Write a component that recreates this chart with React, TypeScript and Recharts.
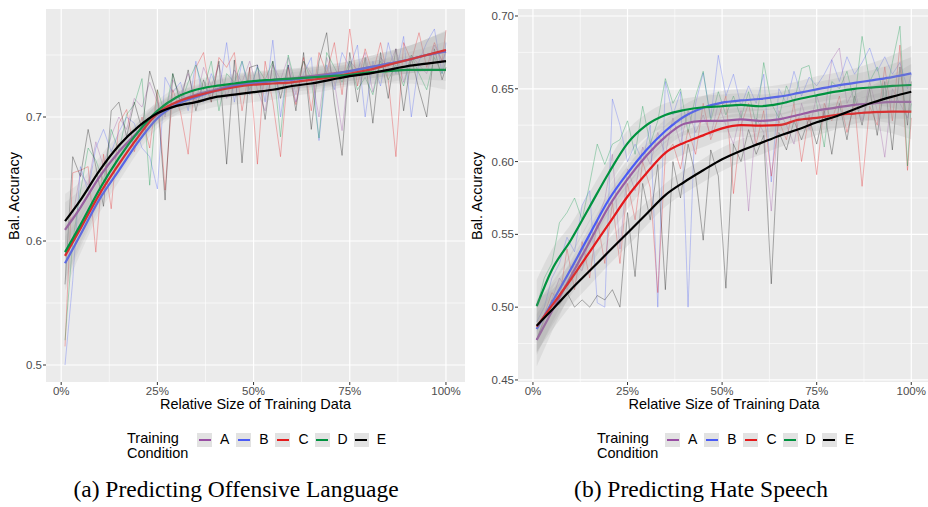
import React from 'react';
import { ComposedChart, Line, Area, XAxis, YAxis, CartesianGrid } from 'recharts';

// x positions (percent of training data)
const rawSizes = [
  1, 3, 5, 7, 9, 11, 13, 15, 17, 19, 21, 23, 25, 27, 29, 31, 33, 35, 37, 39, 41, 43, 45, 47, 49,
  51, 53, 55, 57, 59, 61, 63, 65, 67, 69, 71, 73, 75, 77, 79, 81, 83, 85, 87, 89, 91, 93, 95, 97, 99, 100,
];
const smoothSizes = [1, 5, 10, 15, 20, 25, 30, 35, 40, 45, 50, 55, 60, 65, 70, 75, 80, 85, 90, 95, 100];

const conditions = ['A', 'B', 'C', 'D', 'E'];
const colors = ['#984EA3', '#4A5BF5', '#E41A1C', '#00923F', '#000000'];

// (a) offensive language - raw runs
const offA = [
  0.610, 0.620, 0.655, 0.645, 0.680, 0.660, 0.685, 0.700, 0.690, 0.715,
  0.708, 0.728, 0.712, 0.700, 0.730, 0.718, 0.735, 0.712, 0.740, 0.725,
  0.742, 0.715, 0.738, 0.728, 0.745, 0.722, 0.705, 0.742, 0.730, 0.748,
  0.718, 0.745, 0.735, 0.700, 0.748, 0.728, 0.689, 0.745, 0.738, 0.752,
  0.720, 0.748, 0.740, 0.755, 0.728, 0.750, 0.742, 0.735, 0.758, 0.745, 0.752,
];
const offB = [
  0.500, 0.568, 0.660, 0.640, 0.675, 0.690, 0.672, 0.688, 0.700, 0.695,
  0.675, 0.668, 0.642, 0.732, 0.720, 0.728, 0.705, 0.745, 0.712, 0.735,
  0.720, 0.760, 0.712, 0.745, 0.718, 0.742, 0.712, 0.762, 0.700, 0.742,
  0.712, 0.735, 0.748, 0.681, 0.742, 0.722, 0.752, 0.740, 0.758, 0.700,
  0.745, 0.725, 0.760, 0.735, 0.765, 0.700, 0.745, 0.760, 0.771, 0.735, 0.760,
];
const offC = [
  0.515, 0.655, 0.657, 0.660, 0.591, 0.670, 0.626, 0.695, 0.706, 0.672,
  0.700, 0.675, 0.722, 0.641, 0.722, 0.704, 0.670, 0.740, 0.752, 0.712,
  0.748, 0.740, 0.752, 0.705, 0.740, 0.662, 0.745, 0.712, 0.668, 0.740,
  0.710, 0.748, 0.705, 0.752, 0.735, 0.760, 0.718, 0.771, 0.725, 0.755,
  0.735, 0.760, 0.730, 0.668, 0.760, 0.745, 0.768, 0.740, 0.760, 0.745, 0.770,
];
const offD = [
  0.520, 0.600, 0.640, 0.675, 0.665, 0.648, 0.690, 0.672, 0.702, 0.710,
  0.731, 0.645, 0.722, 0.702, 0.735, 0.710, 0.728, 0.742, 0.722, 0.745,
  0.705, 0.735, 0.728, 0.745, 0.722, 0.740, 0.730, 0.745, 0.684, 0.750,
  0.725, 0.745, 0.730, 0.683, 0.752, 0.740, 0.728, 0.745, 0.722, 0.732,
  0.718, 0.745, 0.730, 0.742, 0.725, 0.750, 0.735, 0.722, 0.748, 0.735, 0.745,
];
const offE = [
  0.565, 0.668, 0.652, 0.690, 0.660, 0.628, 0.705, 0.712, 0.684, 0.712,
  0.690, 0.737, 0.716, 0.633, 0.735, 0.712, 0.738, 0.705, 0.730, 0.712,
  0.745, 0.662, 0.746, 0.663, 0.740, 0.742, 0.698, 0.745, 0.715, 0.742,
  0.705, 0.752, 0.690, 0.745, 0.768, 0.712, 0.669, 0.752, 0.712, 0.748,
  0.695, 0.752, 0.715, 0.755, 0.705, 0.748, 0.722, 0.700, 0.755, 0.730, 0.740,
];

// (a) smoothed fits
const offSmoothA = [0.609, 0.627, 0.652, 0.672, 0.688, 0.702, 0.712, 0.718, 0.722, 0.726, 0.728, 0.730, 0.731, 0.733, 0.735, 0.737, 0.740, 0.743, 0.746, 0.750, 0.753];
const offSmoothB = [0.582, 0.605, 0.634, 0.657, 0.680, 0.699, 0.710, 0.716, 0.721, 0.725, 0.727, 0.729, 0.730, 0.732, 0.734, 0.737, 0.740, 0.743, 0.746, 0.750, 0.753];
const offSmoothC = [0.588, 0.610, 0.638, 0.662, 0.684, 0.703, 0.712, 0.717, 0.721, 0.724, 0.726, 0.727, 0.728, 0.730, 0.732, 0.735, 0.738, 0.742, 0.746, 0.750, 0.754];
const offSmoothD = [0.591, 0.613, 0.642, 0.667, 0.688, 0.705, 0.716, 0.722, 0.725, 0.727, 0.729, 0.730, 0.731, 0.732, 0.733, 0.734, 0.736, 0.737, 0.738, 0.738, 0.738];
const offSmoothE = [0.616, 0.633, 0.657, 0.677, 0.692, 0.703, 0.709, 0.712, 0.716, 0.718, 0.720, 0.722, 0.725, 0.727, 0.730, 0.733, 0.735, 0.738, 0.741, 0.743, 0.745];
const offBand = [0.022, 0.015, 0.011, 0.009, 0.008, 0.008, 0.008, 0.008, 0.008, 0.008, 0.008, 0.008, 0.008, 0.008, 0.008, 0.008, 0.009, 0.010, 0.011, 0.013, 0.016];

// (b) hate speech - raw runs
const hateA = [
  0.478, 0.490, 0.505, 0.520, 0.512, 0.530, 0.525, 0.550, 0.560, 0.574,
  0.605, 0.540, 0.595, 0.580, 0.610, 0.598, 0.620, 0.605, 0.630, 0.612,
  0.635, 0.620, 0.632, 0.618, 0.640, 0.625, 0.612, 0.635, 0.566, 0.630,
  0.620, 0.566, 0.635, 0.625, 0.612, 0.640, 0.622, 0.645, 0.630, 0.670,
  0.678, 0.640, 0.650, 0.628, 0.655, 0.635, 0.603, 0.650, 0.640, 0.630, 0.640,
];
const hateB = [
  0.490, 0.500, 0.520, 0.530, 0.548, 0.538, 0.570, 0.580, 0.503, 0.500,
  0.643, 0.625, 0.600, 0.612, 0.600, 0.625, 0.500, 0.655, 0.632, 0.648,
  0.500, 0.640, 0.661, 0.630, 0.673, 0.645, 0.660, 0.638, 0.652, 0.640,
  0.660, 0.586, 0.650, 0.640, 0.662, 0.645, 0.658, 0.652, 0.660, 0.670,
  0.655, 0.672, 0.660, 0.668, 0.678, 0.662, 0.672, 0.660, 0.668, 0.650, 0.660,
];
const hateC = [
  0.487, 0.495, 0.510, 0.505, 0.540, 0.512, 0.545, 0.520, 0.560, 0.530,
  0.572, 0.530, 0.585, 0.560, 0.600, 0.582, 0.510, 0.605, 0.612, 0.595,
  0.622, 0.605, 0.640, 0.615, 0.630, 0.645, 0.578, 0.625, 0.640, 0.612,
  0.635, 0.590, 0.628, 0.615, 0.640, 0.600, 0.632, 0.591, 0.640, 0.628,
  0.645, 0.620, 0.640, 0.583, 0.638, 0.625, 0.665, 0.628, 0.680, 0.594, 0.630,
];
const hateD = [
  0.500, 0.520, 0.530, 0.558, 0.565, 0.575, 0.560, 0.585, 0.612, 0.598,
  0.612, 0.615, 0.628, 0.605, 0.638, 0.612, 0.628, 0.657, 0.640, 0.650,
  0.620, 0.645, 0.662, 0.628, 0.648, 0.632, 0.645, 0.630, 0.648, 0.625,
  0.668, 0.640, 0.630, 0.652, 0.640, 0.664, 0.666, 0.640, 0.610, 0.655,
  0.650, 0.662, 0.640, 0.686, 0.655, 0.665, 0.642, 0.668, 0.693, 0.597, 0.640,
];
const hateE = [
  0.478, 0.492, 0.505, 0.502, 0.510, 0.500, 0.505, 0.500, 0.508, 0.505,
  0.512, 0.500, 0.565, 0.521, 0.585, 0.560, 0.598, 0.512, 0.600, 0.575,
  0.612, 0.590, 0.546, 0.608, 0.590, 0.513, 0.612, 0.600, 0.622, 0.605,
  0.618, 0.516, 0.620, 0.608, 0.628, 0.615, 0.630, 0.612, 0.635, 0.605,
  0.640, 0.615, 0.645, 0.625, 0.650, 0.618, 0.655, 0.608, 0.665, 0.625, 0.655,
];

// (b) smoothed fits
const hateSmoothA = [0.4775, 0.497, 0.521, 0.545, 0.569, 0.588, 0.604, 0.617, 0.626, 0.628, 0.628, 0.629, 0.628, 0.629, 0.632, 0.635, 0.637, 0.639, 0.640, 0.641, 0.641];
const hateSmoothB = [0.485, 0.503, 0.526, 0.550, 0.5736, 0.592, 0.608, 0.621, 0.631, 0.637, 0.6405, 0.642, 0.643, 0.6446, 0.647, 0.6496, 0.652, 0.654, 0.656, 0.658, 0.6606];
const hateSmoothC = [0.4866, 0.501, 0.519, 0.538, 0.557, 0.576, 0.592, 0.606, 0.613, 0.618, 0.6228, 0.625, 0.6247, 0.625, 0.6286, 0.630, 0.632, 0.633, 0.634, 0.6343, 0.6343];
const hateSmoothD = [0.5008, 0.5256, 0.546, 0.569, 0.592, 0.6125, 0.625, 0.632, 0.6354, 0.6373, 0.638, 0.6389, 0.638, 0.6396, 0.6428, 0.6455, 0.648, 0.650, 0.651, 0.652, 0.6526];
const hateSmoothE = [0.4873, 0.498, 0.512, 0.525, 0.538, 0.551, 0.564, 0.577, 0.586, 0.594, 0.6016, 0.6075, 0.6125, 0.6176, 0.622, 0.627, 0.631, 0.636, 0.6407, 0.6446, 0.648];
const hateBand = [0.018, 0.014, 0.011, 0.010, 0.009, 0.009, 0.008, 0.008, 0.008, 0.008, 0.008, 0.008, 0.008, 0.008, 0.008, 0.009, 0.009, 0.010, 0.012, 0.015, 0.019];

const xTicks = [0, 0.25, 0.5, 0.75, 1];
const xMinor = [0.125, 0.375, 0.625, 0.875];
const offTicks = [0.5, 0.6, 0.7];
const offMinor = [0.55, 0.65, 0.75];
const hateTicks = [0.45, 0.5, 0.55, 0.6, 0.65, 0.7];
const hateMinor = [0.475, 0.525, 0.575, 0.625, 0.675];

const FONT = '"Liberation Sans", Arial, Helvetica, sans-serif';
const X_DOMAIN = [-0.0395, 1.0495];
const CHART_H = 405;

function buildRows(raw: number[][], smooth: number[][], band: number[]) {
  const xs = Array.from(new Set([...rawSizes, ...smoothSizes])).sort((a, b) => a - b);
  return xs.map((x) => {
    const row: any = { x: x / 100 };
    const ri = rawSizes.indexOf(x);
    const si = smoothSizes.indexOf(x);
    conditions.forEach((c, k) => {
      if (ri >= 0) row['r' + c] = raw[k][ri];
      if (si >= 0) {
        row['s' + c] = smooth[k][si];
        row['b' + c] = [smooth[k][si] - band[si], smooth[k][si] + band[si]];
      }
    });
    return row;
  });
}

const offRows = buildRows(
  [offA, offB, offC, offD, offE],
  [offSmoothA, offSmoothB, offSmoothC, offSmoothD, offSmoothE],
  offBand
);
const hateRows = buildRows(
  [hateA, hateB, hateC, hateD, hateE],
  [hateSmoothA, hateSmoothB, hateSmoothC, hateSmoothD, hateSmoothE],
  hateBand
);

const layer: React.CSSProperties = { position: 'absolute', left: 0, top: 0 };

function Panel({ rows, yDomain, yTicks, yMinor, digits, width, ribbon }: any) {
  const tick = { fill: '#4D4D4D', fontSize: 11.5, fontFamily: FONT };
  return (
    <div style={{ position: 'relative', width, height: CHART_H }}>
      {/* panel, axes and the raw runs */}
      <div style={layer}>
        <ComposedChart width={width} height={CHART_H} data={rows} margin={{ top: 9, right: 1, left: 0, bottom: 0 }}>
          <CartesianGrid
            fill="#EBEBEB"
            stroke="#FFFFFF"
            strokeWidth={0.6}
            horizontalValues={yMinor}
            verticalValues={xMinor}
          />
          <CartesianGrid stroke="#FFFFFF" strokeWidth={1.2} horizontalValues={yTicks} verticalValues={xTicks} />
          <XAxis
            type="number"
            dataKey="x"
            domain={X_DOMAIN}
            ticks={xTicks}
            allowDataOverflow
            tickFormatter={(v: number) => `${Math.round(v * 100)}%`}
            axisLine={false}
            tickLine={{ stroke: '#333333' }}
            tickSize={3}
            tickMargin={2}
            height={23}
            tick={tick}
          />
          <YAxis
            type="number"
            domain={yDomain}
            ticks={yTicks}
            allowDataOverflow
            tickFormatter={(v: number) => v.toFixed(digits)}
            axisLine={false}
            tickLine={{ stroke: '#333333' }}
            tickSize={3}
            tickMargin={1}
            width={46}
            tick={tick}
          />
          {conditions.map((c, k) => (
            <Line
              key={'r' + c}
              dataKey={'r' + c}
              type="linear"
              stroke={colors[k]}
              strokeOpacity={0.45}
              strokeWidth={0.7}
              dot={false}
              activeDot={false}
              connectNulls
              isAnimationActive={false}
            />
          ))}
        </ComposedChart>
      </div>
      {/* one layer per condition: ribbon, then fitted line, stacked A..E */}
      {conditions.map((c, k) => (
        <div key={c} style={layer}>
          <ComposedChart width={width} height={CHART_H} data={rows} margin={{ top: 9, right: 1, left: 46, bottom: 23 }}>
            <XAxis hide type="number" dataKey="x" domain={X_DOMAIN} allowDataOverflow />
            <YAxis hide type="number" domain={yDomain} allowDataOverflow />
            <Area
              dataKey={'b' + c}
              type="monotone"
              stroke="none"
              fill="#9A9A9A"
              fillOpacity={ribbon}
              dot={false}
              activeDot={false}
              connectNulls
              isAnimationActive={false}
            />
            <Line
              dataKey={'s' + c}
              type="monotone"
              stroke={colors[k]}
              strokeWidth={2.2}
              dot={false}
              activeDot={false}
              connectNulls
              isAnimationActive={false}
            />
          </ComposedChart>
        </div>
      ))}
    </div>
  );
}

function Legend({ textLeft, keyLeft }: { textLeft: number; keyLeft: number }) {
  return (
    <>
      <div style={{ position: 'absolute', left: textLeft, top: 431, fontSize: 14.5, lineHeight: '15px', color: '#000' }}>
        Training
        <br />
        Condition
      </div>
      {conditions.map((c, k) => (
        <React.Fragment key={c}>
          <div
            style={{
              position: 'absolute',
              left: keyLeft + k * 39.2,
              top: 433,
              width: 15,
              height: 14,
              background: '#E2E2E2',
            }}
          >
            <div style={{ position: 'absolute', left: 1.5, top: 5.8, width: 12, height: 2.6, background: colors[k] }} />
          </div>
          <div
            style={{
              position: 'absolute',
              left: keyLeft + k * 39.2 + 23,
              top: 432,
              fontSize: 14,
              lineHeight: '15px',
              color: '#000',
            }}
          >
            {c}
          </div>
        </React.Fragment>
      ))}
    </>
  );
}

const yTitle = (left: number) => (
  <div
    style={{
      position: 'absolute',
      left,
      top: 195.5,
      transform: 'translate(-50%, -50%) rotate(-90deg)',
      fontSize: 14.5,
      whiteSpace: 'nowrap',
      color: '#000',
    }}
  >
    Bal. Accuracy
  </div>
);

const xTitle = (center: number) => (
  <div
    style={{
      position: 'absolute',
      left: center - 150,
      width: 300,
      top: 397,
      textAlign: 'center',
      fontSize: 14.5,
      lineHeight: 1,
      color: '#000',
    }}
  >
    Relative Size of Training Data
  </div>
);

const caption = (center: number, text: string) => (
  <div
    style={{
      position: 'absolute',
      left: center - 250,
      width: 500,
      top: 478,
      textAlign: 'center',
      fontFamily: '"Liberation Serif", "Times New Roman", serif',
      fontSize: 23.5,
      lineHeight: 1,
      color: '#000',
    }}
  >
    {text}
  </div>
);

export default function App() {
  return (
    <div
      style={{
        position: 'absolute',
        left: 0,
        top: 0,
        width: 928,
        height: 507,
        overflow: 'hidden',
        background: '#FFFFFF',
        fontFamily: FONT,
      }}
    >
      <div style={{ position: 'absolute', left: 0, top: 0 }}>
        <Panel rows={offRows} yDomain={[0.4863, 0.7871]} yTicks={offTicks} yMinor={offMinor} digits={1} width={466} ribbon={0.14} />
      </div>
      <div style={{ position: 'absolute', left: 472, top: 0 }}>
        <Panel rows={hateRows} yDomain={[0.4486, 0.7048]} yTicks={hateTicks} yMinor={hateMinor} digits={2} width={459} ribbon={0.18} />
      </div>
      {yTitle(14)}
      {yTitle(477)}
      {xTitle(255.5)}
      {xTitle(724)}
      <Legend textLeft={127} keyLeft={197} />
      <Legend textLeft={597} keyLeft={665} />
      {caption(236, '(a) Predicting Offensive Language')}
      {caption(701, '(b) Predicting Hate Speech')}
    </div>
  );
}
